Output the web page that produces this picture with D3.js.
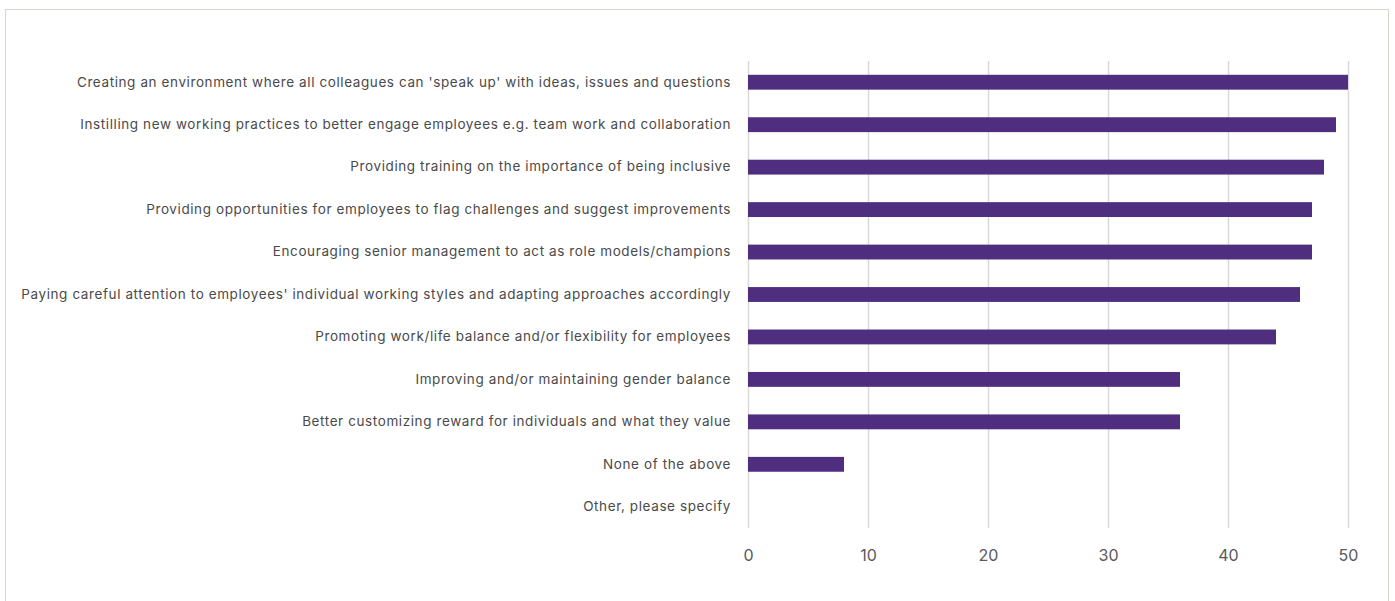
<!DOCTYPE html>
<html>
<head>
<meta charset="utf-8">
<script src="https://cdn.jsdelivr.net/npm/d3@7"></script>
<style>
  body { margin: 0; background: #ffffff; }
  svg { display: block; }
</style>
</head>
<body>
<div id="chart"></div>
<script>
const categories = [
    "Creating an environment where all colleagues can 'speak up' with ideas, issues and questions",
    "Instilling new working practices to better engage employees e.g. team work and collaboration",
    "Providing training on the importance of being inclusive",
    "Providing opportunities for employees to flag challenges and suggest improvements",
    "Encouraging senior management to act as role models/champions",
    "Paying careful attention to employees' individual working styles and adapting approaches accordingly",
    "Promoting work/life balance and/or flexibility for employees",
    "Improving and/or maintaining gender balance",
    "Better customizing reward for individuals and what they value",
    "None of the above",
    "Other, please specify"
];
const values = [50, 49, 48, 47, 47, 46, 44, 36, 36, 8, 0];
const xTicks = [0, 10, 20, 30, 40, 50];

const svgWidth = 1395;
const svgHeight = 601;
const margin = { top: 61, right: 47, bottom: 73, left: 748 };

const svg = d3.select('#chart')
    .append('svg')
    .attr('width', svgWidth)
    .attr('height', svgHeight);

// outer frame
svg.append('rect')
    .attr('x', 5.5)
    .attr('y', 9.5)
    .attr('width', 1383)
    .attr('height', 600)
    .attr('fill', 'none')
    .attr('stroke', '#d9d4cc')
    .attr('stroke-width', 1);

const x = d3.scaleLinear()
    .domain([0, 50])
    .range([margin.left, svgWidth - margin.right]);

const y = d3.scaleBand()
    .domain(categories)
    .range([margin.top, svgHeight - margin.bottom])
    .paddingInner(0.65)
    .paddingOuter(0.325);

// gridlines
svg.append('g')
    .selectAll('line')
    .data(xTicks)
    .join('line')
    .attr('x1', d => x(d) + 0.5)
    .attr('x2', d => x(d) + 0.5)
    .attr('y1', margin.top)
    .attr('y2', svgHeight - margin.bottom)
    .attr('stroke', '#d9d9d9')
    .attr('stroke-width', 1.5);

// bars
svg.append('g')
    .selectAll('rect')
    .data(values)
    .join('rect')
    .attr('x', x(0))
    .attr('y', (d, i) => y(categories[i]))
    .attr('width', d => x(d) - x(0))
    .attr('height', y.bandwidth())
    .attr('fill', '#4f2d7f');

// x axis labels
const xAxis = svg.append('g')
    .attr('transform', `translate(0, ${svgHeight - margin.bottom})`)
    .call(d3.axisBottom(x).tickValues(xTicks).tickSize(0).tickPadding(22));
xAxis.select('.domain').remove();
xAxis.selectAll('text')
    .attr('fill', '#595959')
    .attr('font-family', 'Inter, sans-serif')
    .attr('font-size', 16);

// category labels
const yAxis = svg.append('g')
    .attr('transform', `translate(${margin.left}, 0)`)
    .call(d3.axisLeft(y).tickSize(0).tickPadding(17));
yAxis.select('.domain').remove();
yAxis.selectAll('text')
    .attr('fill', '#4a4a4a')
    .attr('font-family', 'Inter, sans-serif')
    .attr('font-size', 13.5)
    .attr('letter-spacing', 0.6);
</script>
</body>
</html>
